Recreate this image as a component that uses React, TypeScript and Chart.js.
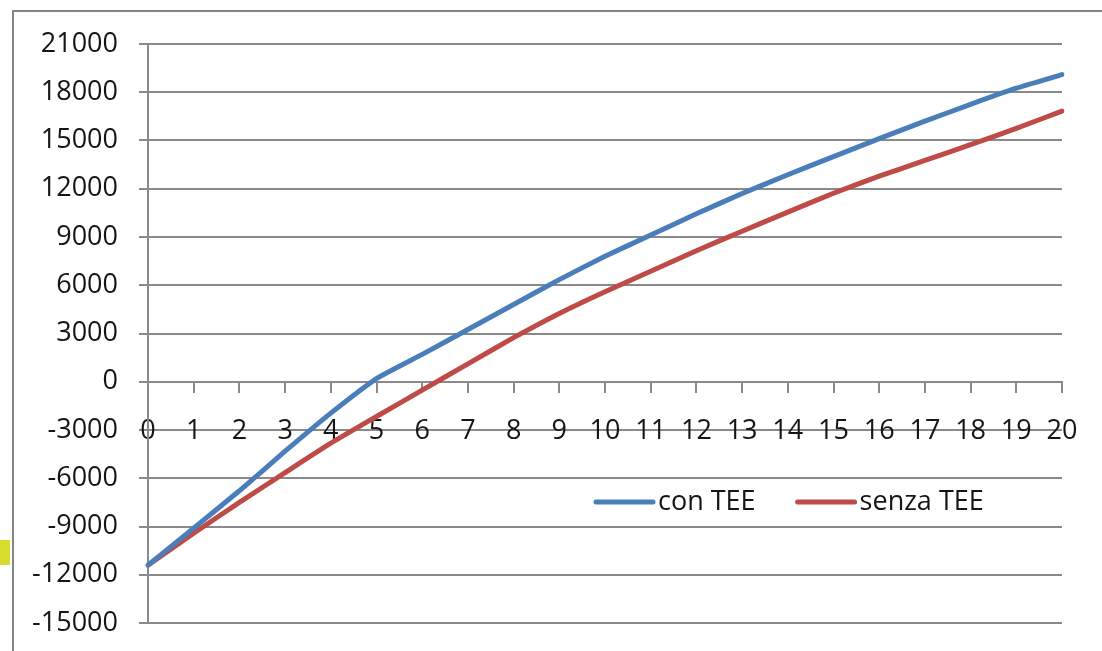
import React, { useEffect, useRef } from "react";
import { Chart, registerables } from "chart.js";

Chart.register(...registerables);

// Years 0..20
const years: string[] = [
  "0", "1", "2", "3", "4", "5", "6", "7", "8", "9", "10",
  "11", "12", "13", "14", "15", "16", "17", "18", "19", "20",
];

// Cumulative cash flow with the TEE incentive
const conTEE: number[] = [
  -11400, -9100, -6780, -4320, -1950, 200, 1700, 3250, 4800, 6350, 7800,
  9120, 10440, 11700, 12870, 14000, 15120, 16200, 17250, 18250, 19100,
];

// Cumulative cash flow without the TEE incentive
const senzaTEE: number[] = [
  -11400, -9420, -7500, -5650, -3820, -2160, -520, 1110, 2740, 4250, 5600,
  6870, 8150, 9360, 10550, 11720, 12780, 13760, 14740, 15750, 16830,
];

const seriesLabels: string[] = ["con TEE", "senza TEE"];
const seriesColors: string[] = ["#4A7EBB", "#BE4B48"];

const yMin = -15000;
const yMax = 21000;
const yStep = 3000;

const FONT = "'Open Sans', 'Liberation Sans', sans-serif";
const TEXT = "#151515";
const GRID = "#8a8a8a";

// Legend drawn inside the plot, bottom right
const insideLegend = {
  id: "insideLegend",
  afterDatasetsDraw(chart: any) {
    const { ctx, chartArea } = chart;
    const y = chartArea.bottom - 121;
    let x = chartArea.right - 468;
    ctx.save();
    ctx.font = `27px ${FONT}`;
    ctx.textBaseline = "middle";
    ctx.textAlign = "left";
    chart.data.datasets.forEach((ds: any) => {
      ctx.strokeStyle = ds.borderColor;
      ctx.lineWidth = 5;
      ctx.lineCap = "round";
      ctx.beginPath();
      ctx.moveTo(x + 2, y);
      ctx.lineTo(x + 59, y);
      ctx.stroke();
      ctx.fillStyle = TEXT;
      ctx.fillText(ds.label, x + 64, y);
      const w = ctx.measureText(ds.label).width;
      x += 64 + w + 40;
    });
    ctx.restore();
  },
};

export default function App() {
  const canvasRef = useRef<HTMLCanvasElement | null>(null);

  useEffect(() => {
    if (!canvasRef.current) return;
    const chart = new Chart(canvasRef.current, {
      type: "line",
      data: {
        labels: years,
        datasets: [
          {
            label: seriesLabels[0],
            data: conTEE,
            borderColor: seriesColors[0],
            backgroundColor: seriesColors[0],
            borderWidth: 5,
            borderCapStyle: "round",
            borderJoinStyle: "round",
            pointRadius: 0,
            tension: 0.15,
          },
          {
            label: seriesLabels[1],
            data: senzaTEE,
            borderColor: seriesColors[1],
            backgroundColor: seriesColors[1],
            borderWidth: 5,
            borderCapStyle: "round",
            borderJoinStyle: "round",
            pointRadius: 0,
            tension: 0.15,
          },
        ],
      },
      options: {
        responsive: false,
        animation: false,
        layout: { padding: { left: 0, top: 44, right: 40, bottom: 28 } },
        plugins: {
          legend: { display: false },
          tooltip: { enabled: false },
        },
        scales: {
          x: {
            type: "category",
            position: { y: 0 },
            offset: false,
            grid: {
              display: true,
              drawOnChartArea: false,
              drawTicks: true,
              tickLength: 10,
              color: GRID,
              lineWidth: 2,
            },
            border: { display: true, color: GRID, width: 2 },
            ticks: {
              color: TEXT,
              font: { family: FONT, size: 27 },
              padding: 23,
              maxRotation: 0,
              autoSkip: false,
            },
          },
          y: {
            min: yMin,
            max: yMax,
            afterFit(scale: any) {
              scale.width = 148;
              scale.paddingTop = 10;
              scale.paddingBottom = 10;
            },
            grid: {
              color: GRID,
              lineWidth: 2,
              drawTicks: true,
              tickLength: 9,
            },
            border: { display: true, color: GRID, width: 2 },
            ticks: {
              stepSize: yStep,
              color: TEXT,
              font: { family: FONT, size: 27 },
              padding: 21,
              callback: (v: any) => String(v),
            },
          },
        },
      },
      plugins: [insideLegend],
    });
    return () => chart.destroy();
  }, []);

  return (
    <div
      style={{
        position: "absolute",
        left: 0,
        top: 0,
        width: 1102,
        height: 651,
        overflow: "hidden",
        background: "#ffffff",
      }}
    >
      <div
        style={{
          position: "absolute",
          left: 0,
          top: 540,
          width: 10,
          height: 25,
          background: "#d6dd2c",
        }}
      />
      <div
        style={{
          position: "absolute",
          left: 12,
          top: 10,
          width: 1200,
          height: 800,
          border: "2px solid #858585",
        }}
      />
      <canvas
        ref={canvasRef}
        width={1102}
        height={651}
        style={{ position: "absolute", left: 0, top: 0 }}
      />
    </div>
  );
}
